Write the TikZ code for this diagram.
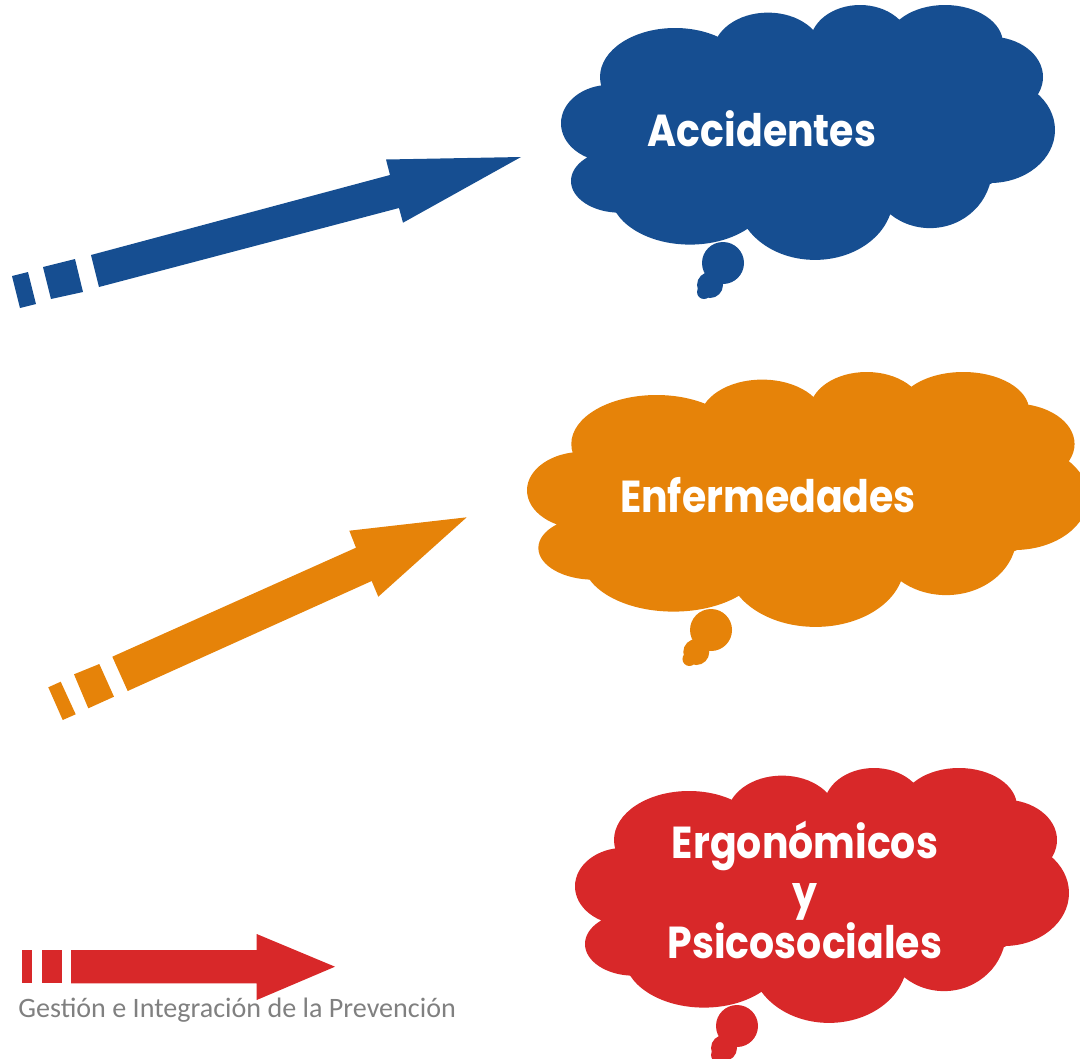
\documentclass[tikz,border=0pt]{standalone}
\usepackage{fontspec}
\setmainfont{Poppins}
\newfontfamily\cloudfont[FakeStretch=0.88]{Poppins}
\newfontfamily\footfont{Carlito}
\definecolor{cblue}{RGB}{22,78,145}
\definecolor{corange}{RGB}{230,131,9}
\definecolor{cred}{RGB}{216,40,41}
\definecolor{cgray}{RGB}{128,128,128}
% #1 left, #2 top, #3 horizontal stretch, #4 colour
\newcommand{\thoughtcloud}[4]{%
  \begin{scope}[shift={(#1,#2)}]
    \begin{scope}[xscale=#3]
      \fill[#4]
        (49,118.3)  ellipse [x radius=49, y radius=38.5]
        (59,176)    ellipse [x radius=49, y radius=31.7]
        (129,187.6) ellipse [x radius=80, y radius=52]
        (254,192.4) ellipse [x radius=78, y radius=62.5]
        (369,163.5) ellipse [x radius=62, y radius=59.6]
        (429,125)   ellipse [x radius=65, y radius=53]
        (429,72)    ellipse [x radius=53, y radius=40.4]
        (384,38.5)  ellipse [x radius=58, y radius=38.5]
        (299,38.5)  ellipse [x radius=50, y radius=38.5]
        (207,48)    ellipse [x radius=55, y radius=40.4]
        (114,72)    ellipse [x radius=75, y radius=49]
        (249,125)   ellipse [x radius=230, y radius=87];
    \end{scope}
    \fill[#4] ({162*#3},258) circle [radius=21]
              ({149*#3},280) circle [radius=13]
              ({143*#3},287) circle [radius=7];
  \end{scope}}
\begin{document}
\begin{tikzpicture}[x=0.02cm, y=-0.02cm,
  cloudtext/.style={text=white, font=\cloudfont\fontsize{25.5}{28.3}\selectfont\bfseries,
                    align=center, inner sep=0pt},
  foottext/.style={text=cgray, font=\footfont\fontsize{16}{19}\selectfont, inner sep=0pt}]
\useasboundingbox (0,0) rectangle (1080,1059);
\clip (0,0) rectangle (1080,1059);

% clouds
\thoughtcloud{561}{5}{1}{cblue}
\thoughtcloud{527}{372}{1.136}{corange}
\thoughtcloud{575}{768}{1.0}{cred}

% blue arrow
\fill[cblue] (12,276) -- (28,272) -- (36,304) -- (20,308) -- cycle;
\fill[cblue] (43,267) -- (75,259) -- (83,292) -- (51,299) -- cycle;
\fill[cblue] (91,255) -- (390,175) -- (386,159.5) -- (521,157) -- (403,222.7)
   -- (399,208) -- (99,287) -- cycle;

% orange arrow
\fill[corange] (48.3,687.3) -- (60.7,681.7) -- (75.7,714.3) -- (62.7,720) -- cycle;
\fill[corange] (74,674.3) -- (99.3,664) -- (114,696.7) -- (88.3,708.3) -- cycle;
\fill[corange] (112.3,656.7) -- (356,547.7) -- (349.3,530.7) -- (466.7,517.3)
   -- (378.3,596.7) -- (371.7,581) -- (127.7,691) -- cycle;

% red arrow
\fill[cred] (21.7,950) rectangle (32.3,983.3);
\fill[cred] (41.7,950) rectangle (61.7,983.3);
\fill[cred] (71,950) -- (256.7,950) -- (256.7,934) -- (335,966.7) -- (256.7,1000)
   -- (256.7,983.3) -- (71,983.3) -- cycle;

% texts
\node[cloudtext, anchor=base] (acc) at (762,146) {Accidentes};
\node[cloudtext, anchor=base] (enf) at (768,512) {Enfermedades};
\node[cloudtext, anchor=center] (erg) at (805,890) {Ergonómicos\\y\\Psicosociales};
\node[foottext, anchor=base west] (foot) at (18,1017) {Gestión e Integración de la Prevención};
\end{tikzpicture}
\end{document}
